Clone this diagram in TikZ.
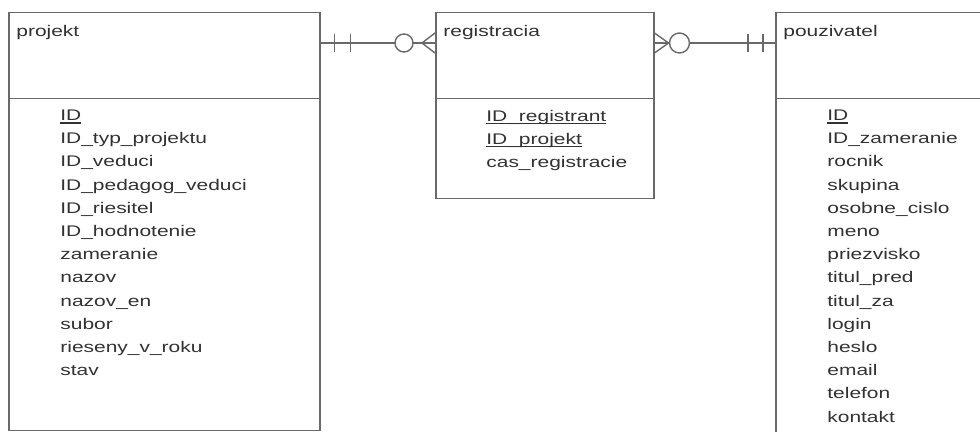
\documentclass[tikz,border=0pt]{standalone}
\usepackage{fontspec}
\setmainfont{Liberation Sans}[FakeStretch=1.36]
\usepackage{tikz}
\usetikzlibrary{positioning,calc}
\definecolor{edgegray}{RGB}{105,105,105}
\definecolor{textgray}{RGB}{50,50,50}
% key attribute, underlined just below the baseline
\newcommand\pkey[1]{\leavevmode\setbox0\hbox{#1}\rlap{\rule[-1.6pt]{\wd0}{0.6pt}}\box0}

\begin{document}
\begin{tikzpicture}[x=0.5pt,y=-0.5pt,
        font=\fontsize{7.7}{11.6}\selectfont,
        ent/.style={draw=edgegray,line width=0.75pt,anchor=north west,inner sep=0pt,minimum height=43pt},
        title/.style={inner sep=0pt,text=textgray},
        attrs/.style={inner sep=0pt,align=left,text=textgray},
        rel/.style={draw=edgegray,line width=0.7pt},
    ]
    \clip (0,0) rectangle (980,432);
    \fill[white] (0,0) rectangle (980,432);

    % entities
    \node[ent,minimum width=155.5pt,minimum height=209pt] (projekt) at (8,12) {};
    \node[ent,minimum width=155.5pt] (projekt head) at (8,12) {};
    \node[ent,minimum width=109pt,minimum height=93pt] (registracia) at (435,12) {};
    \node[ent,minimum width=109pt] (registracia head) at (435,12) {};
    \node[ent,minimum width=230pt,minimum height=230pt] (pouzivatel) at (775,12) {};
    \node[ent,minimum width=230pt] (pouzivatel head) at (775,12) {};

    \node[title,below right=6.5pt and 4pt of projekt.north west] (projekt title) {projekt};
    \node[title,below right=6.5pt and 4pt of registracia.north west] (registracia title) {registracia};
    \node[title,below right=6.5pt and 4pt of pouzivatel.north west] (pouzivatel title) {pouzivatel};

    \node[attrs,below right=5pt and 26pt of projekt head.south west] (projekt attrs) {
        \pkey{ID}\\ID\_typ\_projektu\\ID\_veduci\\ID\_pedagog\_veduci\\ID\_riesitel\\
        ID\_hodnotenie\\zameranie\\nazov\\nazov\_en\\subor\\rieseny\_v\_roku\\stav};
    \node[attrs,below right=5pt and 25.5pt of registracia head.south west] (registracia attrs) {
        \pkey{ID\_registrant}\\\pkey{ID\_projekt}\\cas\_registracie};
    \node[attrs,below right=5pt and 26pt of pouzivatel head.south west] (pouzivatel attrs) {
        \pkey{ID}\\ID\_zameranie\\rocnik\\skupina\\osobne\_cislo\\meno\\priezvisko\\
        titul\_pred\\titul\_za\\login\\heslo\\email\\telefon\\kontakt};

    % projekt -- registracia
    \draw[rel] ($(projekt.north east)+(0,31)$) coordinate (pr) -- ($(registracia.north west)+(0,31)$) coordinate (rp);
    \draw[rel] ($(pr)+(14,-9)$) -- ($(pr)+(14,9)$);
    \draw[rel] ($(pr)+(30,-9)$) -- ($(pr)+(30,9)$);
    \draw[rel,fill=white] ($(rp)+(-31,0)$) circle[radius=9];
    \draw[rel] ($(rp)+(0,-10)$) -- ($(rp)+(-13,0)$) -- ($(rp)+(0,10)$);

    % registracia -- pouzivatel
    \draw[rel] ($(registracia.north east)+(0,31)$) coordinate (rq) -- ($(pouzivatel.north west)+(0,31)$) coordinate (pq);
    \draw[rel] ($(rq)+(0,-10)$) -- ($(rq)+(14,0)$) -- ($(rq)+(0,10)$);
    \draw[rel,fill=white] ($(rq)+(25,0)$) circle[radius=10];
    \draw[rel] ($(pq)+(-27,-9)$) -- ($(pq)+(-27,9)$);
    \draw[rel] ($(pq)+(-12,-9)$) -- ($(pq)+(-12,9)$);
\end{tikzpicture}
\end{document}
